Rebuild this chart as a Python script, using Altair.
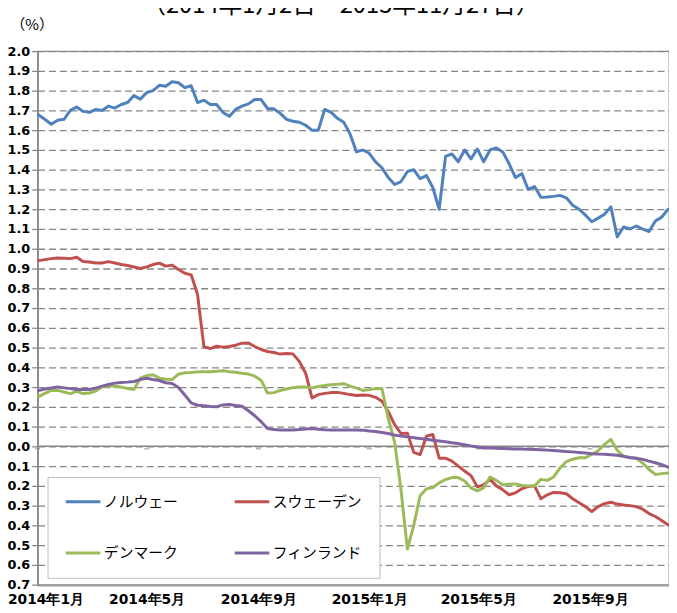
import altair as alt
import pandas as pd

# weekly observation dates (2014-01-02 .. 2015-11-26)
dates = pd.date_range("2014-01-02", periods=100, freq="7D")

countries = ["ノルウェー", "スウェーデン", "デンマーク", "フィンランド"]
colors = ["#4F81BD", "#C0504D", "#9BBB59", "#8064A2"]

norway = [1.677, 1.655, 1.63, 1.65, 1.655, 1.70, 1.717, 1.695, 1.69, 1.705,
          1.70, 1.722, 1.712, 1.73, 1.74, 1.775, 1.757, 1.79, 1.80, 1.827,
          1.822, 1.845, 1.84, 1.815, 1.825, 1.74, 1.752, 1.73, 1.73, 1.69,
          1.67, 1.705, 1.722, 1.733, 1.755, 1.755, 1.71, 1.708, 1.685, 1.655,
          1.645, 1.64, 1.625, 1.60, 1.60, 1.705, 1.69, 1.66, 1.64, 1.58,
          1.49, 1.50, 1.483, 1.44, 1.41, 1.36, 1.325, 1.34, 1.39, 1.40,
          1.355, 1.37, 1.31, 1.20, 1.467, 1.48, 1.44, 1.50, 1.455, 1.505,
          1.44, 1.50, 1.51, 1.49, 1.43, 1.36, 1.38, 1.30, 1.315, 1.26,
          1.262, 1.265, 1.27, 1.258, 1.22, 1.20, 1.17, 1.137, 1.155, 1.175,
          1.212, 1.06, 1.11, 1.10, 1.115, 1.10, 1.087, 1.14, 1.16, 1.20]

sweden = [0.94, 0.945, 0.95, 0.953, 0.952, 0.95, 0.957, 0.935, 0.933, 0.928,
          0.928, 0.935, 0.928, 0.92, 0.915, 0.908, 0.90, 0.908, 0.92, 0.927,
          0.912, 0.917, 0.895, 0.876, 0.868, 0.77, 0.505, 0.495, 0.507, 0.502,
          0.505, 0.512, 0.522, 0.523, 0.505, 0.49, 0.48, 0.475, 0.467, 0.47,
          0.468, 0.43, 0.37, 0.245, 0.262, 0.268, 0.272, 0.273, 0.268, 0.262,
          0.257, 0.26, 0.258, 0.248, 0.228, 0.175, 0.11, 0.065, 0.067, -0.03,
          -0.042, 0.052, 0.06, -0.06, -0.06, -0.075, -0.10, -0.125, -0.148, -0.205,
          -0.195, -0.167, -0.20, -0.22, -0.245, -0.235, -0.215, -0.203, -0.20, -0.265,
          -0.245, -0.233, -0.235, -0.24, -0.265, -0.285, -0.305, -0.33, -0.305, -0.29,
          -0.283, -0.292, -0.297, -0.30, -0.305, -0.318, -0.34, -0.355, -0.375, -0.398]

denmark = [0.252, 0.268, 0.283, 0.283, 0.275, 0.267, 0.278, 0.267, 0.27, 0.28,
           0.302, 0.305, 0.305, 0.30, 0.293, 0.288, 0.345, 0.358, 0.362, 0.345,
           0.34, 0.338, 0.365, 0.372, 0.374, 0.377, 0.378, 0.378, 0.38, 0.383,
           0.378, 0.375, 0.37, 0.366, 0.355, 0.335, 0.27, 0.272, 0.283, 0.29,
           0.297, 0.30, 0.30, 0.296, 0.303, 0.308, 0.312, 0.314, 0.317, 0.305,
           0.295, 0.283, 0.287, 0.292, 0.293, 0.14, 0.02, -0.22, -0.52, -0.40,
           -0.25, -0.215, -0.208, -0.185, -0.168, -0.158, -0.158, -0.175, -0.21, -0.225,
           -0.21, -0.155, -0.172, -0.195, -0.192, -0.19, -0.198, -0.20, -0.20, -0.167,
           -0.172, -0.155, -0.11, -0.077, -0.065, -0.058, -0.058, -0.04, -0.022, 0.01,
           0.035, -0.02, -0.05, -0.058, -0.06, -0.085, -0.117, -0.142, -0.138, -0.135]

finland = [0.283, 0.29, 0.295, 0.30, 0.296, 0.292, 0.288, 0.288, 0.288, 0.295,
           0.305, 0.313, 0.32, 0.323, 0.325, 0.328, 0.338, 0.345, 0.338, 0.333,
           0.322, 0.318, 0.298, 0.26, 0.22, 0.208, 0.205, 0.202, 0.20, 0.21,
           0.212, 0.207, 0.203, 0.18, 0.155, 0.125, 0.09, 0.085, 0.083, 0.083,
           0.083, 0.085, 0.088, 0.09, 0.087, 0.084, 0.083, 0.083, 0.083, 0.083,
           0.083, 0.082, 0.078, 0.075, 0.07, 0.065, 0.057, 0.052, 0.048, 0.044,
           0.04, 0.036, 0.031, 0.027, 0.023, 0.018, 0.014, 0.008, 0.002, -0.003,
           -0.008, -0.009, -0.01, -0.011, -0.012, -0.013, -0.014, -0.015, -0.016, -0.017,
           -0.019, -0.021, -0.023, -0.026, -0.028, -0.031, -0.034, -0.037, -0.039, -0.04,
           -0.042, -0.045, -0.05, -0.056, -0.06, -0.066, -0.075, -0.083, -0.093, -0.105]

y_ticks = [-0.7, -0.6, -0.5, -0.4, -0.3, -0.2, -0.1, 0.0, 0.1, 0.2, 0.3, 0.4, 0.5,
           0.6, 0.7, 0.8, 0.9, 1.0, 1.1, 1.2, 1.3, 1.4, 1.5, 1.6, 1.7, 1.8, 1.9, 2.0]
month_ticks = ["2014-01-01", "2014-05-01", "2014-09-01",
               "2015-01-01", "2015-05-01", "2015-09-01"]

title_text = "（2014年1月2日～2015年11月27日）"

rows = []
for name, vals in zip(countries, [norway, sweden, denmark, finland]):
    for d, v in zip(dates, vals):
        rows.append({"date": d, "value": v, "country": name})
df = pd.DataFrame(rows)
ticks_df = pd.DataFrame({"date": pd.to_datetime(month_ticks)})

grey = "#868686"
x_values = [alt.DateTime(year=int(s[:4]), month=int(s[5:7]), date=1) for s in month_ticks]
x_scale = alt.Scale(domain=[alt.DateTime(year=2014, month=1, date=1),
                            alt.DateTime(year=2015, month=11, date=27)])
y_scale = alt.Scale(domain=[-0.7, 2.0], nice=False, zero=False)

lines = alt.Chart(df).mark_line(strokeWidth=3, strokeJoin="round", strokeCap="round").encode(
    x=alt.X("date:T", scale=x_scale,
            axis=alt.Axis(title=None, values=x_values, format="%Y年%-m月",
                          labelFont="DejaVu Sans", labelFontSize=14, labelFontWeight="bold",
                          labelColor="black", labelPadding=8, labelFlush=False,
                          labelOverlap=False, ticks=False, grid=False,
                          labelOffset=alt.condition("datum.value < time(datetime(2014, 1, 15))",
                                                    alt.value(8), alt.value(0)),
                          domainColor="#a0a0a0", domainWidth=2.5)),
    y=alt.Y("value:Q", scale=y_scale,
            axis=alt.Axis(title="（%）", titleAngle=0, titleX=-28, titleY=-22,
                          titleAlign="left", titleBaseline="alphabetic",
                          titleFont="Noto Sans CJK JP", titleFontSize=15,
                          titleFontWeight="normal", titleColor="black",
                          values=y_ticks, tickCount=28, format=".1f", labelOverlap=False,
                          labelFont="DejaVu Sans", labelFontSize=13, labelFontWeight="bold",
                          labelColor="black", labelPadding=2,
                          tickSize=6, tickColor=grey, tickWidth=1.3,
                          domainColor=grey, domainWidth=1.5,
                          grid=True, gridColor=grey, gridDash=[7, 4], gridWidth=1.3)),
    color=alt.Color("country:N", sort=countries,
                    scale=alt.Scale(domain=countries, range=colors),
                    legend=alt.Legend(title=None, orient="none", legendX=10, legendY=431,
                                      direction="horizontal",
                                      columns=2, symbolType="stroke", symbolSize=1225,
                                      symbolStrokeWidth=3, labelFont="Noto Sans CJK JP",
                                      labelFontSize=15, labelColor="black", labelOffset=2,
                                      fillColor="white", strokeColor="#bfbfbf",
                                      padding=17, rowPadding=36, columnPadding=55,
                                      clipHeight=16, labelLimit=200)),
    order=alt.Order("country:N"),
)

zero_line = alt.Chart().mark_rule(color=grey, strokeWidth=1.5).encode(y=alt.datum(0.0))

zero_ticks = alt.Chart(ticks_df).mark_tick(color=grey, thickness=1.3, size=5, yOffset=2.5).encode(
    x=alt.X("date:T"), y=alt.datum(0.0)
)

title_mark = alt.Chart().mark_text(
    text=title_text, font="Noto Sans CJK JP", fontSize=24, color="black",
    align="center", baseline="bottom"
).encode(x=alt.value(307), y=alt.value(-34))

chart = alt.layer(zero_line, zero_ticks, lines, title_mark).properties(
    width=639, height=540,
    autosize=alt.AutoSizeParams(type="none"),
    padding={"left": 30, "top": 40, "right": 0, "bottom": 25},
).configure_view(stroke=grey, strokeWidth=1.3)

chart.save("out.html", embed_options={"renderer": "svg", "actions": False})
